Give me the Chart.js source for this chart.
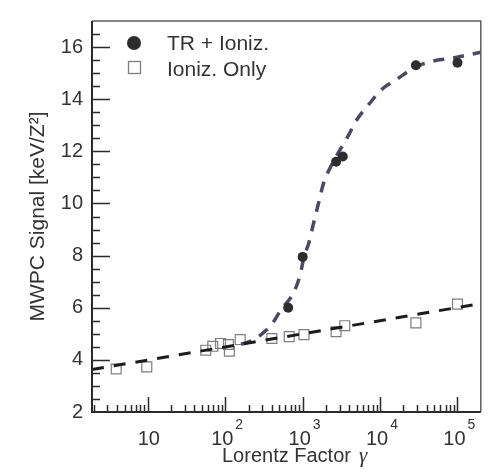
<!DOCTYPE html>
<html>
<head>
<meta charset="utf-8">
<script src="https://cdn.jsdelivr.net/npm/chart.js@4.4.1/dist/chart.umd.min.js"></script>
<style>
  html, body { margin: 0; padding: 0; background: #fff; }
</style>
</head>
<body>
<canvas id="chart" width="489" height="472"></canvas>
<script>
// measured points
const trGamma = [650, 1000, 2700, 3300, 29000, 100000];
const trSignal = [6.0, 7.95, 11.6, 11.8, 15.3, 15.4];

const ionGamma = [3.9, 9.7, 56, 69, 87, 110, 113, 156, 400, 670, 1040, 2700, 3500, 29000, 100000];
const ionSignal = [3.65, 3.73, 4.37, 4.52, 4.63, 4.59, 4.33, 4.78, 4.82, 4.89, 4.97, 5.08, 5.31, 5.42, 6.14];

// dashed fit curves
const trFitGamma = [160, 221, 386, 532, 755, 927, 1040, 1206, 1395, 1615, 1870, 2360, 3880, 4900, 7160, 10470, 16700, 28400, 47700, 83000, 200000];
const trFitSignal = [4.6, 4.74, 5.31, 5.95, 6.55, 7.26, 7.94, 8.5, 9.29, 10.05, 10.8, 11.47, 12.6, 13.17, 13.8, 14.37, 14.78, 15.23, 15.46, 15.57, 15.8];
const ionFitGamma = [1.9, 200000];
const ionFitSignal = [3.63, 6.16];

// axes
const xMajorTicks = [10, 100, 1000, 10000, 100000];
const xTickExponents = ['', '2', '3', '4', '5'];
const yTicks = [2, 4, 6, 8, 10, 12, 14, 16];
const legendLabels = ['TR + Ioniz.', 'Ioniz. Only'];

const FONT = '"Liberation Sans", Arial, Helvetica, sans-serif';
const TEXT = '#333';
Chart.defaults.font.family = FONT;
Chart.defaults.color = TEXT;

const pts = (xs, ys) => xs.map((x, i) => ({ x: x, y: ys[i] }));

// frame, inward ticks, x labels, legend
const decorations = {
  id: 'decorations',
  afterDatasetsDraw(chart) {
    const { ctx, chartArea: a, scales: { x, y } } = chart;
    ctx.save();

    ctx.strokeStyle = '#5e5e5e';
    ctx.lineWidth = 1.5;
    ctx.beginPath();
    ctx.moveTo(a.left, a.top);
    ctx.lineTo(a.right, a.top);
    ctx.lineTo(a.right, a.bottom);
    ctx.stroke();

    ctx.strokeStyle = '#2b2b2b';
    ctx.lineWidth = 2;
    ctx.beginPath();
    ctx.moveTo(a.left, a.top);
    ctx.lineTo(a.left, a.bottom);
    ctx.lineTo(a.right, a.bottom);
    ctx.stroke();

    // y ticks every 0.5
    ctx.lineWidth = 1.5;
    ctx.beginPath();
    for (let i = 5; i < 34; i++) {
      const v = i / 2;
      const py = Math.round(y.getPixelForValue(v)) + 0.5;
      const len = yTicks.includes(v) ? 18 : 8;
      ctx.moveTo(a.left, py);
      ctx.lineTo(a.left + len, py);
    }
    ctx.stroke();

    // x ticks, log decades
    ctx.beginPath();
    for (let k = 0; k <= 5; k++) {
      for (let m = 1; m <= 9; m++) {
        const v = m * Math.pow(10, k);
        if (v <= x.min || v >= x.max) continue;
        const px = Math.round(x.getPixelForValue(v)) + 0.5;
        const len = m === 1 ? 15 : 7;
        ctx.moveTo(px, a.bottom);
        ctx.lineTo(px, a.bottom - len);
      }
    }
    ctx.stroke();

    // x tick labels with superscripts
    ctx.fillStyle = TEXT;
    ctx.textBaseline = 'alphabetic';
    xMajorTicks.forEach((v, i) => {
      const px = x.getPixelForValue(v);
      ctx.font = '20px ' + FONT;
      const base = '10';
      const w = ctx.measureText(base).width;
      if (!xTickExponents[i]) {
        ctx.textAlign = 'center';
        ctx.fillText(base, px + 1, 445);
      } else {
        ctx.textAlign = 'left';
        const start = px - w / 2 - 3;
        ctx.fillText(base, start, 445);
        ctx.font = '14px ' + FONT;
        ctx.fillText(xTickExponents[i], start + w + 2, 429);
      }
    });

    // x axis title
    ctx.textAlign = 'left';
    ctx.font = '20px ' + FONT;
    ctx.fillText('Lorentz Factor', 222, 462);
    ctx.font = 'italic 21px "Liberation Serif", "DejaVu Serif", serif';
    ctx.fillText('γ', 359, 462);

    // legend
    const trSet = chart.data.datasets[0];
    const ionSet = chart.data.datasets[1];
    ctx.fillStyle = trSet.backgroundColor;
    ctx.beginPath();
    ctx.arc(134, 43, 7, 0, Math.PI * 2);
    ctx.fill();
    ctx.strokeStyle = ionSet.borderColor;
    ctx.lineWidth = 1.3;
    ctx.strokeRect(128.5, 61.5, 12, 12);
    ctx.fillStyle = TEXT;
    ctx.font = '21px ' + FONT;
    ctx.fillText(legendLabels[0], 167, 50);
    ctx.fillText(legendLabels[1], 167, 76);

    ctx.restore();
  }
};

new Chart(document.getElementById('chart'), {
  type: 'scatter',
  data: {
    datasets: [
      {
        label: legendLabels[0],
        data: pts(trGamma, trSignal),
        pointStyle: 'circle',
        pointRadius: 5,
        backgroundColor: '#2d2d2d',
        borderColor: '#2d2d2d',
        borderWidth: 0,
        order: 0
      },
      {
        label: legendLabels[1],
        data: pts(ionGamma, ionSignal),
        pointStyle: 'rect',
        pointRadius: 7,
        backgroundColor: 'rgba(255,255,255,0)',
        borderColor: '#7d7d7d',
        borderWidth: 1.2,
        order: 3
      },
      {
        label: 'TR fit',
        data: pts(trFitGamma, trFitSignal),
        showLine: true,
        pointRadius: 0,
        borderColor: '#4a4a62',
        borderWidth: 3.5,
        borderDash: [11, 9],
        cubicInterpolationMode: 'monotone',
        order: 2
      },
      {
        label: 'Ioniz. fit',
        data: pts(ionFitGamma, ionFitSignal),
        showLine: true,
        pointRadius: 0,
        borderColor: '#1c1c1c',
        borderWidth: 3,
        borderDash: [12, 10],
        order: 1
      }
    ]
  },
  options: {
    responsive: false,
    animation: false,
    layout: { padding: { left: 26, top: 12, right: 2, bottom: 0 } },
    plugins: {
      legend: { display: false },
      tooltip: { enabled: false }
    },
    scales: {
      x: {
        type: 'logarithmic',
        min: 1.9,
        max: 200000,
        grid: { display: false, drawTicks: false },
        border: { display: false },
        ticks: { display: false },
        afterFit: (scale) => { scale.height = 60; }
      },
      y: {
        min: 2,
        max: 17,
        grid: { display: false, drawTicks: false },
        border: { display: false },
        afterBuildTicks: (scale) => { scale.ticks = yTicks.map(v => ({ value: v })); },
        ticks: { font: { size: 20 }, color: TEXT, padding: 9 },
        title: {
          display: true,
          text: 'MWPC Signal [keV/Z²]',
          font: { size: 21 },
          color: TEXT,
          padding: { top: 0, bottom: 0 }
        },
        afterFit: (scale) => { scale.width = 66; }
      }
    }
  },
  plugins: [decorations]
});
</script>
</body>
</html>
